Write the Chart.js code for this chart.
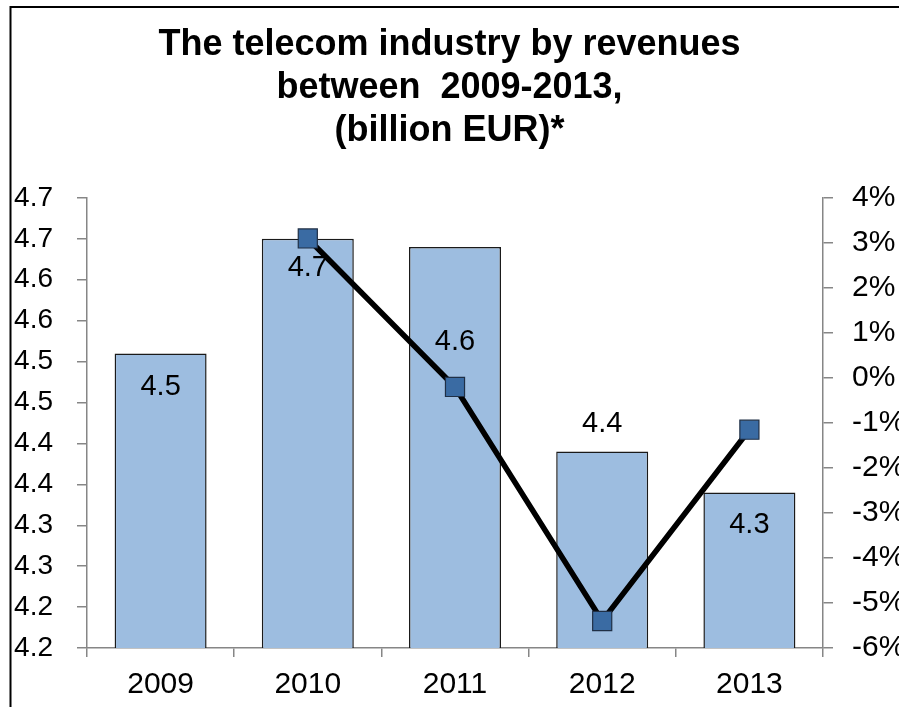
<!DOCTYPE html>
<html lang="en">
<head>
  <meta charset="UTF-8" />
  <title>The telecom industry by revenues</title>
  <script src="https://cdn.jsdelivr.net/npm/chart.js"></script>
  <style>
    html, body { margin: 0; padding: 0; background: #fff; overflow: hidden; }
    #wrap { position: relative; width: 899px; height: 707px; }
  </style>
</head>
<body>
  <div id="wrap"><canvas id="telecom"></canvas></div>

  <script>
    // --- data ---
    const years    = ['2009', '2010', '2011', '2012', '2013'];
    const revenues = [4.51, 4.65, 4.64, 4.39, 4.34];          // billion EUR (bars)
    const growth   = [null, 3.1, -0.2, -5.4, -1.15];          // % change (line)

    const revenueTicks  = [4.15, 4.2, 4.25, 4.3, 4.35, 4.4, 4.45, 4.5, 4.55, 4.6, 4.65, 4.7];
    const revenueLabels = ['4.2', '4.2', '4.3', '4.3', '4.4', '4.4', '4.5', '4.5', '4.6', '4.6', '4.7', '4.7'];
    const growthTicks   = [-6, -5, -4, -3, -2, -1, 0, 1, 2, 3, 4];

    // where each value label sits, px below the bar top (negative = above)
    const labelShift = [34, 29, 95, -28, 32];

    const FONT = "'Liberation Sans', Arial, sans-serif";
    const AXIS = '#868686';

    // outer frame of the chart (goes off the page on right and bottom)
    const framePlugin = {
      id: 'frame',
      beforeDraw(chart) {
        const c = chart.ctx;
        c.save();
        c.fillStyle = '#fff';
        c.fillRect(0, 0, chart.width, chart.height);
        c.strokeStyle = '#000';
        c.lineWidth = 2;
        c.strokeRect(10.5, 7, 1200, 1200);
        c.restore();
      }
    };

    // value labels on the bars
    const barLabels = {
      id: 'barLabels',
      afterDatasetsDraw(chart) {
        const meta = chart.getDatasetMeta(0);
        const c = chart.ctx;
        c.save();
        c.font = '29px ' + FONT;
        c.fillStyle = '#000';
        c.textAlign = 'center';
        c.textBaseline = 'middle';
        meta.data.forEach((bar, i) => {
          const txt = (Math.round(revenues[i] * 10 + 1e-6) / 10).toFixed(1);
          c.fillText(txt, bar.x, bar.y + labelShift[i]);
        });
        c.restore();
      }
    };

    new Chart(document.getElementById('telecom'), {
      data: {
        labels: years,
        datasets: [
          {
            type: 'bar',
            data: revenues,
            yAxisID: 'y',
            backgroundColor: '#9DBDE0',
            borderColor: '#1a1a1a',
            borderWidth: 1.5,
            borderSkipped: false,
            categoryPercentage: 1,
            barPercentage: 0.625,
            order: 2
          },
          {
            type: 'line',
            data: growth,
            yAxisID: 'y1',
            borderColor: '#000',
            borderWidth: 5.5,
            pointStyle: 'rect',
            pointRadius: 13.5,
            pointBackgroundColor: '#3A6BA3',
            pointBorderColor: '#1F2F45',
            pointBorderWidth: 1.2,
            tension: 0,
            order: 1
          }
        ]
      },
      options: {
        responsive: true,
        maintainAspectRatio: false,
        animation: false,
        layout: { padding: 0 },
        plugins: {
          legend: { display: false },
          tooltip: { enabled: false },
          title: {
            display: true,
            text: ['The telecom industry by revenues', 'between  2009-2013,', '(billion EUR)*'],
            color: '#000',
            font: { family: FONT, size: 36, weight: 'bold', lineHeight: 1.194 },
            padding: { top: 24, bottom: 45 }
          }
        },
        scales: {
          x: {
            grid: { drawOnChartArea: false, color: AXIS, tickLength: 9, lineWidth: 1.5 },
            border: { color: AXIS, width: 1.5 },
            ticks: { color: '#000', font: { family: FONT, size: 30 }, padding: 10 },
            afterFit(s) { s.height = 59; }
          },
          y: {
            position: 'left',
            min: 4.15,
            max: 4.7,
            grid: { drawOnChartArea: false, color: AXIS, tickLength: 10, lineWidth: 1.5 },
            border: { color: AXIS, width: 1.5 },
            afterBuildTicks(s) { s.ticks = revenueTicks.map(v => ({ value: v })); },
            ticks: {
              color: '#000',
              font: { family: FONT, size: 28 },
              padding: 24,
              callback: (v, i) => revenueLabels[i]
            },
            afterFit(s) { s.width = 87; }
          },
          y1: {
            position: 'right',
            min: -6,
            max: 4,
            grid: { drawOnChartArea: false, color: AXIS, tickLength: 10, lineWidth: 1.5 },
            border: { color: AXIS, width: 1.5 },
            afterBuildTicks(s) { s.ticks = growthTicks.map(v => ({ value: v })); },
            ticks: {
              color: '#000',
              font: { family: FONT, size: 30 },
              padding: 19,
              callback: v => v + '%'
            },
            afterFit(s) { s.width = 76; }
          }
        }
      },
      plugins: [framePlugin, barLabels]
    });
  </script>
</body>
</html>
